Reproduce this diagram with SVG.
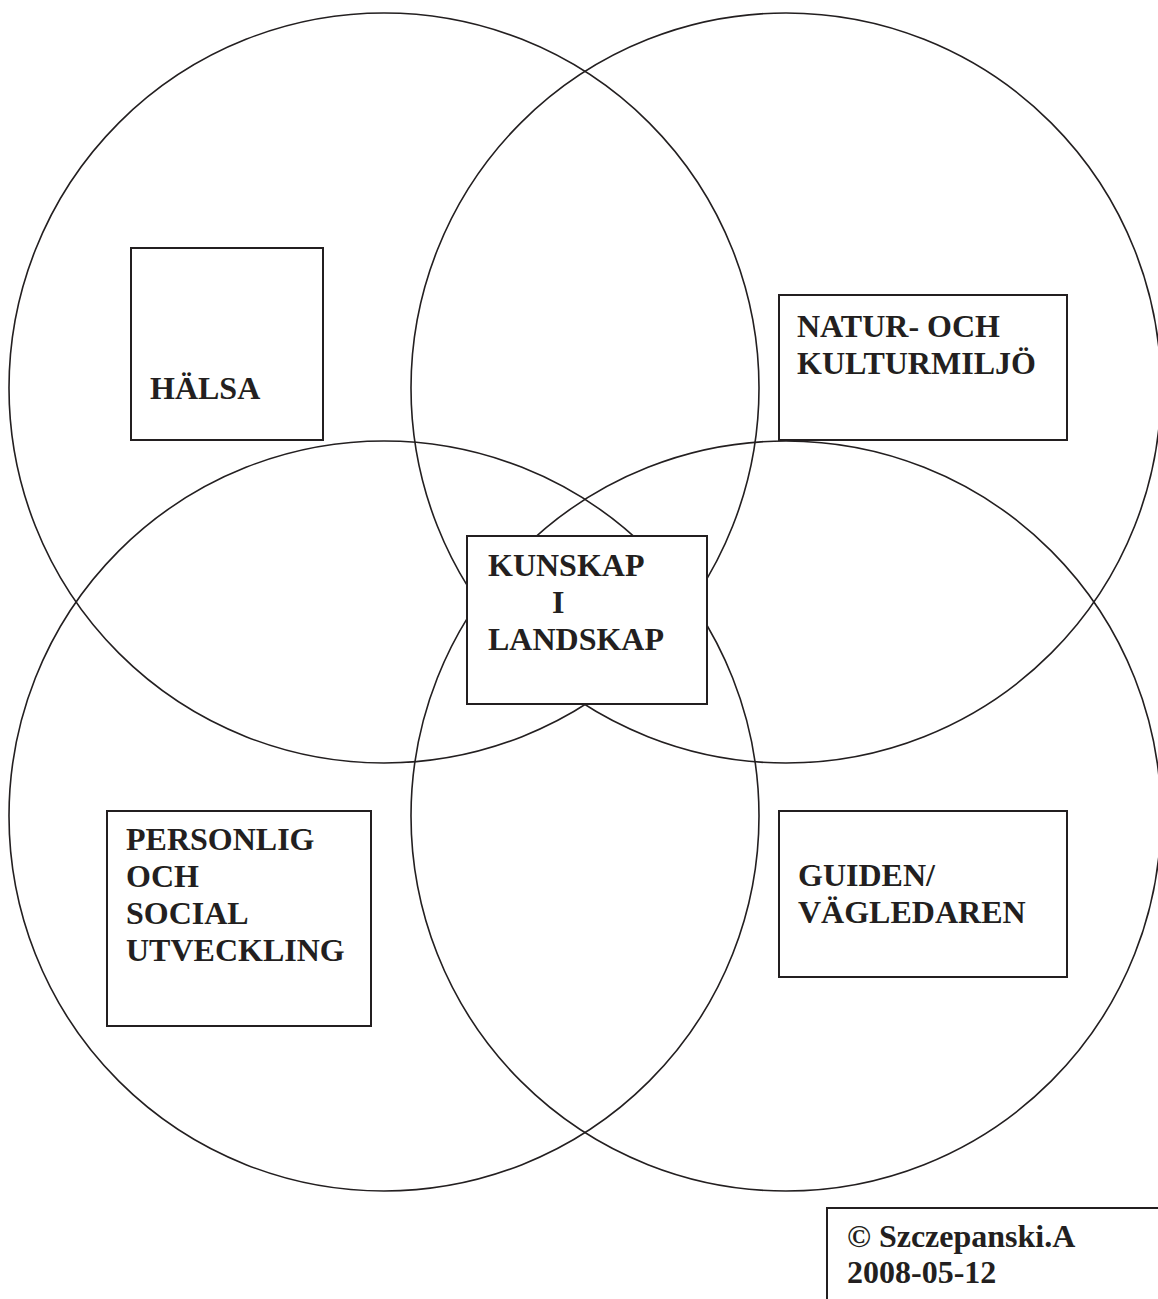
<svg xmlns="http://www.w3.org/2000/svg" width="1158" height="1299" viewBox="0 0 1158 1299">
<style>
.c{fill:none;stroke:#231f20;stroke-width:1.6}
.b{fill:#fff;stroke:#231f20;stroke-width:2}
.t{font-family:"Liberation Serif","Times New Roman",serif;font-weight:bold;font-size:32px;fill:#231f20}
</style>
<rect width="1158" height="1299" fill="#fff"/>
<g id="circles">
<circle id="circle-tl" class="c" cx="384" cy="388" r="375"/>
<circle id="circle-tr" class="c" cx="786" cy="388" r="375"/>
<circle id="circle-bl" class="c" cx="384" cy="816" r="375"/>
<circle id="circle-br" class="c" cx="786" cy="816" r="375"/>
</g>
<g id="connectors"></g>
<g id="halsa">
<rect class="b" x="131" y="248" width="192" height="192"/>
<text class="t" x="150" y="399">HÄLSA</text>
</g>
<g id="natur">
<rect class="b" x="779" y="295" width="288" height="145"/>
<text class="t" x="797" y="337">NATUR- OCH</text>
<text class="t" x="797" y="374">KULTURMILJÖ</text>
</g>
<g id="kunskap">
<rect class="b" x="467" y="536" width="240" height="168"/>
<text class="t" x="488" y="576">KUNSKAP</text>
<text class="t" x="552" y="613">I</text>
<text class="t" x="488" y="650">LANDSKAP</text>
</g>
<g id="personlig">
<rect class="b" x="107" y="811" width="264" height="215"/>
<text class="t" x="126" y="850">PERSONLIG</text>
<text class="t" x="126" y="887">OCH</text>
<text class="t" x="126" y="924">SOCIAL</text>
<text class="t" x="126" y="961">UTVECKLING</text>
</g>
<g id="guiden">
<rect class="b" x="779" y="811" width="288" height="166"/>
<text class="t" x="798" y="886">GUIDEN/</text>
<text class="t" x="798" y="923">VÄGLEDAREN</text>
</g>
<g id="copyright">
<path class="b" d="M827,1299 V1208 H1160" fill="none"/>
<text class="t" x="847" y="1247">© Szczepanski.A</text>
<text class="t" x="847" y="1283">2008-05-12</text>
</g>
</svg>
